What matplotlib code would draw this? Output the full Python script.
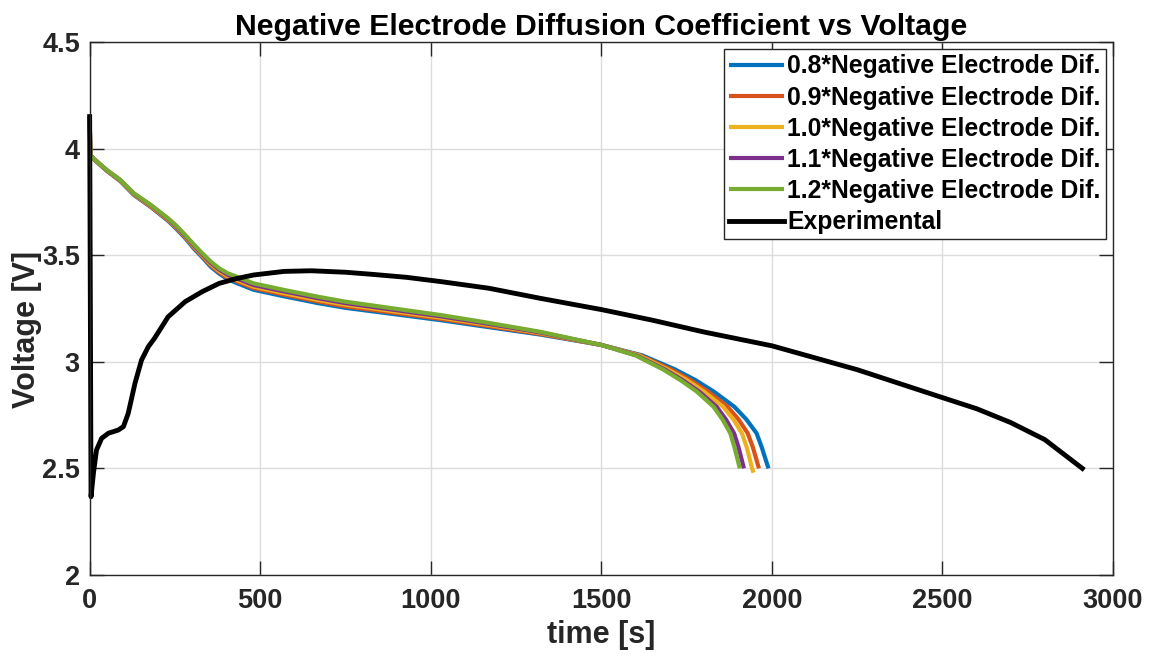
import matplotlib.pyplot as plt

# =========================
# DATI
# =========================

# tempi comuni della parte iniziale delle simulazioni
t_sim = [0, 2, 10, 50, 90, 130, 180, 230, 255, 280, 305, 330, 355, 380, 405, 430, 480, 570, 670, 750, 1030, 1150, 1320, 1500]

v_green = [4.15, 3.97, 3.955, 3.900, 3.853, 3.790, 3.735, 3.673, 3.637, 3.595, 3.551, 3.509, 3.470, 3.438, 3.415, 3.400, 3.368, 3.337, 3.305, 3.282, 3.219, 3.188, 3.141, 3.079]
v_purple = [4.15, 3.97, 3.955, 3.899, 3.852, 3.788, 3.733, 3.670, 3.633, 3.591, 3.546, 3.504, 3.464, 3.432, 3.408, 3.392, 3.360, 3.330, 3.298, 3.275, 3.213, 3.183, 3.138, 3.079]
v_yellow = [4.15, 3.97, 3.954, 3.898, 3.850, 3.786, 3.730, 3.667, 3.630, 3.588, 3.542, 3.500, 3.458, 3.426, 3.401, 3.385, 3.353, 3.322, 3.290, 3.268, 3.207, 3.178, 3.135, 3.079]
v_orange = [4.15, 3.97, 3.954, 3.897, 3.849, 3.784, 3.727, 3.664, 3.626, 3.584, 3.537, 3.495, 3.452, 3.419, 3.394, 3.378, 3.346, 3.315, 3.283, 3.260, 3.201, 3.172, 3.131, 3.079]
v_blue = [4.15, 3.97, 3.953, 3.896, 3.847, 3.782, 3.725, 3.661, 3.622, 3.580, 3.532, 3.490, 3.446, 3.413, 3.387, 3.370, 3.338, 3.307, 3.275, 3.253, 3.195, 3.167, 3.128, 3.079]

# coda finale (dopo 1500 s) per ogni curva
v_tail = [3.03, 2.965, 2.915, 2.86, 2.789, 2.73, 2.665, 2.60, 2.50]
t_tail_green = [1600, 1680, 1731, 1780, 1829, 1855, 1878, 1890, 1906]
t_tail_purple = [1603, 1685, 1737, 1787, 1838, 1865, 1889, 1902, 1918]
t_tail_yellow = [1610, 1693, 1750, 1801, 1857, 1887, 1912, 1926, 1942]
t_tail_orange = [1613, 1703, 1760, 1813, 1870, 1902, 1929, 1944, 1962]
t_tail_blue = [1620, 1715, 1775, 1830, 1890, 1925, 1955, 1970, 1990]

t_exp = [0, 4, 11, 20, 35, 55, 84, 99, 113, 133, 152, 172, 190, 230, 280, 330, 380, 430, 480,
         570, 650, 750, 830, 930, 1030, 1170, 1320, 1500, 1650, 1800, 2000, 2250, 2500, 2600,
         2700, 2800, 2910]
v_exp = [4.15, 2.367, 2.477, 2.586, 2.641, 2.665, 2.68, 2.696, 2.758, 2.90, 3.008, 3.071, 3.11,
         3.211, 3.282, 3.329, 3.368, 3.39, 3.407, 3.424, 3.427, 3.42, 3.41, 3.396, 3.376, 3.345,
         3.298, 3.245, 3.195, 3.14, 3.075, 2.963, 2.832, 2.78, 2.715, 2.635, 2.50]

labels = ["0.8*Negative Electrode Dif.", "0.9*Negative Electrode Dif.",
          "1.0*Negative Electrode Dif.", "1.1*Negative Electrode Dif.",
          "1.2*Negative Electrode Dif.", "Experimental"]

sim_series = [
    (t_sim + t_tail_blue, v_blue + v_tail, "#0072BD"),
    (t_sim + t_tail_orange, v_orange + v_tail, "#D95319"),
    (t_sim + t_tail_yellow + [1946], v_yellow + v_tail + [2.48], "#EDB120"),
    (t_sim + t_tail_purple, v_purple + v_tail, "#7E2F8E"),
    (t_sim + t_tail_green, v_green + v_tail, "#77AC30"),
]

# =========================
# FIGURA
# =========================

plt.rcParams["font.family"] = ["Liberation Sans", "DejaVu Sans"]
plt.rcParams["font.weight"] = "bold"

fig = plt.figure(figsize=(11.54, 6.57), dpi=100)
ax = fig.add_axes([0.0777, 0.1248, 0.8868, 0.8113])

for (t, v, c), lab in zip(sim_series, labels[:5]):
    ax.plot(t, v, color=c, linewidth=3, label=lab, solid_capstyle="butt",
            solid_joinstyle="round", clip_on=False)
ax.plot(t_exp, v_exp, color="black", linewidth=3.5, label=labels[5],
        solid_joinstyle="round", clip_on=False)

ax.set_xlim(0, 3000)
ax.set_ylim(2, 4.5)
ax.set_xticks([0, 500, 1000, 1500, 2000, 2500, 3000])
ax.set_yticks([2, 2.5, 3, 3.5, 4, 4.5])
ax.set_yticklabels(["2", "2.5", "3", "3.5", "4", "4.5"])
ax.grid(True, color="#dcdcdc", linewidth=1)
ax.set_axisbelow(True)

ax.tick_params(direction="in", length=10, width=1, top=True, right=True,
               labelsize=19.5, colors="#262626")
ax.tick_params(axis="x", pad=9)
ax.tick_params(axis="y", pad=7)
for lab in ax.get_xticklabels() + ax.get_yticklabels():
    lab.set_fontweight("bold")
for sp in ax.spines.values():
    sp.set_color("#262626")
    sp.set_linewidth(1)

ax.set_xlabel("time [s]", fontsize=22, fontweight="bold", color="#262626", labelpad=5)
ax.set_ylabel("Voltage [V]", fontsize=22, fontweight="bold", color="#262626")
ax.yaxis.set_label_coords(-0.047, 0.46)
ax.set_title("Negative Electrode Diffusion Coefficient vs Voltage", fontsize=21.8,
             fontweight="bold", pad=5)

leg = ax.legend(loc="upper right", fontsize=17.8, frameon=True, fancybox=False,
                edgecolor="#262626", handlelength=2.2, handletextpad=0.15,
                labelspacing=0.29, borderpad=0.2, borderaxespad=0.3)
leg.get_frame().set_linewidth(1)
leg.get_frame().set_alpha(1)
for txt in leg.get_texts():
    txt.set_fontweight("bold")

plt.savefig("out.png", dpi=100)
plt.close()
